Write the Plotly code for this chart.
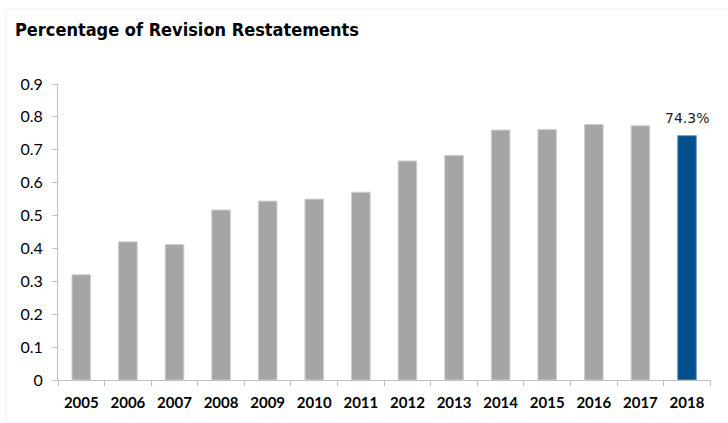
import plotly.graph_objects as go

years = ["2005", "2006", "2007", "2008", "2009", "2010", "2011",
         "2012", "2013", "2014", "2015", "2016", "2017", "2018"]
shares = [0.320, 0.420, 0.412, 0.517, 0.544, 0.550, 0.571,
          0.666, 0.683, 0.760, 0.762, 0.777, 0.773, 0.743]
y_ticks = [0, 0.1, 0.2, 0.3, 0.4, 0.5, 0.6, 0.7, 0.8, 0.9]
y_tick_labels = ["0", "0.1", "0.2", "0.3", "0.4", "0.5", "0.6", "0.7", "0.8", "0.9"]

GRAY = "#A5A5A5"
BLUE = "#00508C"
highlight = "2018"

fill = [BLUE if y == highlight else GRAY for y in years]
edge = ["#6C9CC4" if y == highlight else "#D0D0D0" for y in years]

fig = go.Figure(
    go.Bar(
        x=years,
        y=shares,
        width=0.4,
        marker=dict(color=fill, line=dict(color=edge, width=1)),
        hoverinfo="x+y",
    )
)

# value label above the highlighted bar (category index as x position)
hi = years.index(highlight)
fig.add_annotation(
    x=hi, y=shares[hi],
    text=f"{shares[hi] * 100:.1f}%",
    showarrow=False, yanchor="bottom", yshift=8,
    font=dict(family="DejaVu Sans", size=14, color="#222222"),
)

# faint outer frame
fig.add_shape(type="line", xref="paper", yref="paper",
              x0=-0.0796, x1=1.05, y0=1.253, y1=1.253,
              line=dict(color="#F0F0F0", width=1))
fig.add_shape(type="line", xref="paper", yref="paper",
              x0=-0.0796, x1=-0.0796, y0=-0.2, y1=1.253,
              line=dict(color="#F0F0F0", width=1))

fig.update_layout(
    width=728, height=423,
    margin=dict(l=58, r=17, t=84, b=43),
    paper_bgcolor="white",
    plot_bgcolor="white",
    showlegend=False,
    title=dict(
        text="<b>Percentage of Revision Restatements</b>",
        x=15 / 728, xanchor="left", xref="container",
        y=1 - 30 / 423, yanchor="middle", yref="container",
        font=dict(family="DejaVu Sans Condensed", size=18, color="#000000"),
    ),
)

fig.update_xaxes(
    type="category",
    showline=True, linecolor="#BFBFBF", linewidth=1,
    ticks="outside", tickson="boundaries", ticklen=5, tickcolor="#BFBFBF",
    showgrid=False, tickangle=0, ticklabelstandoff=9,
    tickfont=dict(family="Lato", size=15, color="#000000", weight="bold"),
)
fig.update_yaxes(
    range=[0, 0.9],
    tickvals=y_ticks, ticktext=y_tick_labels,
    showline=True, linecolor="#BFBFBF", linewidth=1,
    ticks="outside", ticklen=5, tickcolor="#BFBFBF",
    showgrid=False, zeroline=False, ticklabelstandoff=6,
    tickfont=dict(family="Lato", size=16, color="#000000"),
)

fig.write_html("out.html")
